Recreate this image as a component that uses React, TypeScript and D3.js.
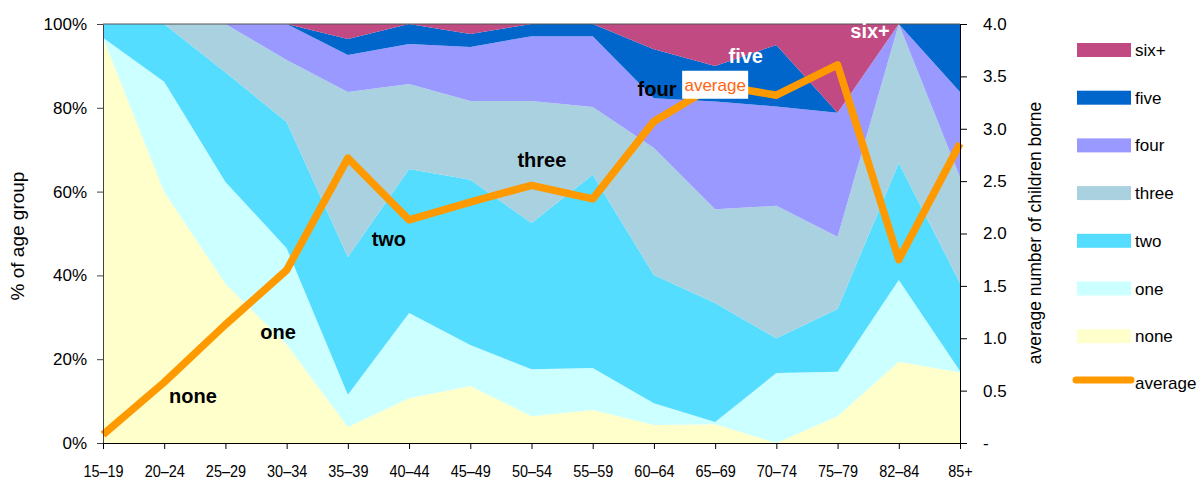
import React, { useEffect, useRef } from 'react';
import * as d3 from 'd3';

// age groups along the bottom
const ageGroups = ['15–19', '20–24', '25–29', '30–34', '35–39', '40–44', '45–49', '50–54', '55–59', '60–64', '65–69', '70–74', '75–79', '82–84', '85+'];

// % of age group by number of children borne
const none = [96.7, 59.9, 38.0, 23.5, 3.8, 10.7, 13.6, 6.4, 7.9, 4.3, 4.5, 0, 6.4, 19.4, 16.8];
const one = [0, 26.3, 24.3, 23.0, 7.7, 20.3, 9.8, 11.2, 10.0, 5.2, 0.5, 16.7, 10.6, 19.5, 0.4];
const two = [3.3, 13.8, 26.2, 30.1, 32.9, 34.4, 39.4, 34.9, 46.1, 30.6, 28.4, 8.3, 15.0, 27.9, 21.0];
const three = [0, 0, 11.5, 14.8, 39.4, 20.3, 18.8, 29.1, 16.2, 30.3, 22.4, 31.6, 17.2, 33.2, 25.3];
const four = [0, 0, 0, 8.6, 8.8, 9.5, 12.9, 15.5, 16.9, 11.9, 25.7, 23.7, 29.6, 0, 20.3];
const five = [0, 0, 0, 0, 3.8, 4.8, 3.1, 2.9, 2.9, 11.7, 8.5, 14.7, 0, 0, 16.2];
const sixPlus = [0, 0, 0, 0, 3.6, 0, 2.4, 0, 0, 6.0, 10.0, 5.0, 21.2, 0, 0];

// average number of children borne (right axis)
const average = [0.08, 0.58, 1.13, 1.65, 2.72, 2.13, 2.30, 2.46, 2.33, 3.07, 3.42, 3.32, 3.61, 1.75, 2.86];

const seriesKeys = ['none', 'one', 'two', 'three', 'four', 'five', 'six+'];
const seriesColors = ['#FFFFCC', '#CCFFFF', '#55DDFF', '#A9D1DF', '#9999FF', '#0066CC', '#C14A82'];

const leftTicks = [0, 20, 40, 60, 80, 100];
const rightTicks = [0, 0.5, 1, 1.5, 2, 2.5, 3, 3.5, 4];

// in-chart labels: position as (fractional age index, % of age group)
const areaLabels = [
  { text: 'none', at: 1.47, pct: 9.5, color: '#000' },
  { text: 'one', at: 2.86, pct: 24.8, color: '#000' },
  { text: 'two', at: 4.67, pct: 47.0, color: '#000' },
  { text: 'three', at: 7.17, pct: 65.9, color: '#000' },
  { text: 'four', at: 9.05, pct: 82.9, color: '#000' },
  { text: 'five', at: 10.5, pct: 90.7, color: '#fff' },
  { text: 'six+', at: 12.53, pct: 96.7, color: '#fff' },
];

const FONT = '"Liberation Sans", Arial, Helvetica, sans-serif';

const App = () => {
  const ref = useRef(null);

  useEffect(() => {
    const width = 1201;
    const height = 479;
    const m = { left: 103, right: 960, top: 24, bottom: 443 };

    const svg = d3.select(ref.current);
    svg.selectAll('*').remove();

    const x = d3.scalePoint().domain(ageGroups).range([m.left, m.right]);
    const yL = d3.scaleLinear().domain([0, 100]).range([m.bottom, m.top]);
    const yR = d3.scaleLinear().domain([0, 4]).range([m.bottom, m.top]);
    const xAt = d3.scaleLinear().domain([0, ageGroups.length - 1]).range([m.left, m.right]);

    const columns = [none, one, two, three, four, five, sixPlus];
    const table = ageGroups.map((age, i) => {
      const row = { age };
      seriesKeys.forEach((k, j) => { row[k] = columns[j][i]; });
      return row;
    });

    const stacked = d3.stack().keys(seriesKeys)(table);

    const area = d3.area()
      .x(d => x(d.data.age))
      .y0(d => yL(d[0]))
      .y1(d => yL(d[1]));

    svg.append('g')
      .selectAll('path')
      .data(stacked)
      .join('path')
        .attr('fill', (d, i) => seriesColors[i])
        .attr('d', area);

    // top border of plot area
    svg.append('line')
      .attr('x1', m.left).attr('x2', m.right)
      .attr('y1', m.top).attr('y2', m.top)
      .attr('stroke', '#555');

    // average line
    const line = d3.line()
      .x((d, i) => x(ageGroups[i]))
      .y(d => yR(d));

    svg.append('path')
      .datum(average)
      .attr('fill', 'none')
      .attr('stroke', '#FF9900')
      .attr('stroke-width', 7.5)
      .attr('stroke-linejoin', 'round')
      .attr('d', line);

    // axes
    const left = svg.append('g')
      .attr('transform', `translate(${m.left},0)`)
      .call(d3.axisLeft(yL).tickValues(leftTicks).tickFormat(d => `${d}%`).tickSize(6).tickSizeOuter(0).tickPadding(10));
    left.selectAll('path, line').attr('stroke', '#444');

    const right = svg.append('g')
      .attr('transform', `translate(${m.right},0)`)
      .call(d3.axisRight(yR).tickValues(rightTicks).tickFormat(d => d === 0 ? '-' : d3.format('.1f')(d)).tickSize(7).tickSizeOuter(0).tickPadding(16));
    right.selectAll('path, line').attr('stroke', '#000');

    const bottom = svg.append('g')
      .attr('transform', `translate(0,${m.bottom})`)
      .call(d3.axisBottom(x).tickSize(6).tickSizeOuter(0).tickPadding(16));
    bottom.selectAll('path, line').attr('stroke', '#000');
    bottom.selectAll('text').attr('transform', 'scale(0.85,1)');

    svg.selectAll('.tick text')
      .attr('fill', '#000')
      .style('font-family', FONT)
      .style('font-size', '17px');

    // axis titles
    svg.append('text')
      .attr('transform', 'translate(24,236) rotate(-90)')
      .attr('text-anchor', 'middle')
      .style('font-family', FONT)
      .style('font-size', '19px')
      .text('% of age group');

    svg.append('text')
      .attr('transform', 'translate(1041,233) rotate(-90)')
      .attr('text-anchor', 'middle')
      .style('font-family', FONT)
      .style('font-size', '17.5px')
      .text('average number of children borne');

    // labels inside the areas
    svg.append('g')
      .selectAll('text')
      .data(areaLabels)
      .join('text')
        .attr('x', d => xAt(d.at))
        .attr('y', d => yL(d.pct))
        .attr('text-anchor', 'middle')
        .attr('fill', d => d.color)
        .style('font-family', FONT)
        .style('font-weight', 'bold')
        .style('font-size', '20px')
        .text(d => d.text);

    // "average" callout on the 65–69 point
    const ci = 10;
    const cx = x(ageGroups[ci]);
    const cy = yR(average[ci]);
    svg.append('rect')
      .attr('x', cx - 33).attr('y', cy - 14)
      .attr('width', 66).attr('height', 28)
      .attr('fill', '#fff');
    svg.append('text')
      .attr('x', cx).attr('y', cy + 6)
      .attr('text-anchor', 'middle')
      .attr('fill', '#FF6611')
      .style('font-family', FONT)
      .style('font-size', '17px')
      .text('average');

    // legend
    const legendItems = seriesKeys.map((k, i) => ({ key: k, color: seriesColors[i] })).reverse();
    const legend = svg.append('g').attr('transform', 'translate(1077,50)');
    const item = legend.selectAll('g')
      .data(legendItems)
      .join('g')
        .attr('transform', (d, i) => `translate(0,${i * 47.7})`);
    item.append('rect')
      .attr('x', 0).attr('y', -7)
      .attr('width', 54).attr('height', 14)
      .attr('fill', d => d.color);
    item.append('text')
      .attr('x', 58).attr('y', 6)
      .style('font-family', FONT)
      .style('font-size', '17px')
      .text(d => d.key);

    const avgItem = legend.append('g').attr('transform', 'translate(0,330)');
    avgItem.append('line')
      .attr('x1', -1).attr('x2', 54)
      .attr('stroke', '#FF9900')
      .attr('stroke-width', 7)
      .attr('stroke-linecap', 'round');
    avgItem.append('text')
      .attr('x', 58).attr('y', 9)
      .style('font-family', FONT)
      .style('font-size', '17px')
      .text('average');

    svg.attr('width', width).attr('height', height);
  }, []);

  return (
    <svg
      ref={ref}
      width={1201}
      height={479}
      style={{ position: 'absolute', left: 0, top: 0, background: '#fff' }}
    />
  );
};

export default App;
